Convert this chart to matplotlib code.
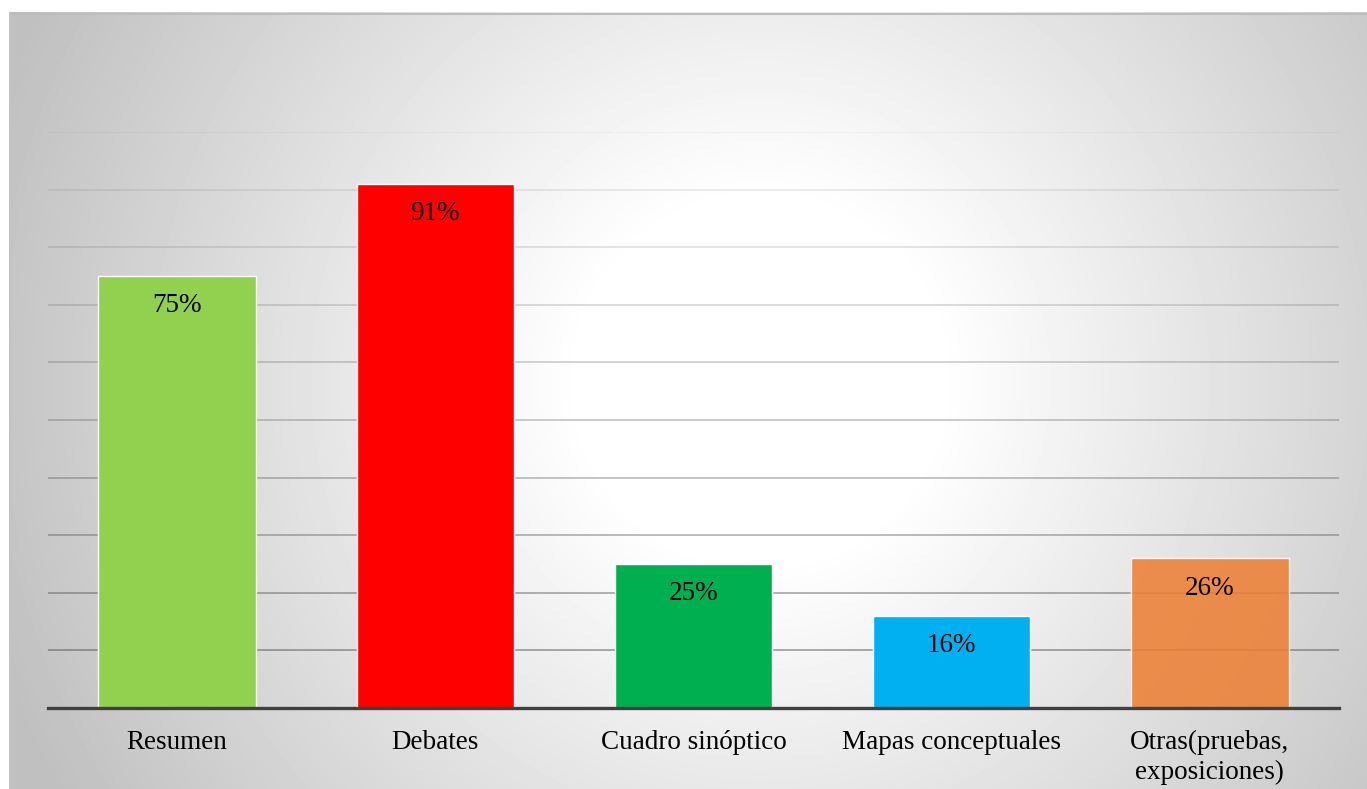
import numpy as np
import matplotlib.pyplot as plt

categorias = ["Resumen", "Debates", "Cuadro sinóptico", "Mapas conceptuales",
              "Otras(pruebas,\nexposiciones)"]
porcentajes = [75, 91, 25, 16, 26]
colores = ["#92D050", "#FF0000", "#00B050", "#00B0F0", "#ED7D31"]
alfas = [1.0, 1.0, 1.0, 1.0, 0.85]
rejilla = [10, 20, 30, 40, 50, 60, 70, 80, 90, 100]

W, H = 1367, 789
fig = plt.figure(figsize=(W / 100, H / 100), dpi=100)
fig.patch.set_facecolor("white")

# radial grey-to-white backdrop of the chart frame
fx0, fy0 = 9, 12
bg = fig.add_axes([fx0 / W, 0, (W - fx0) / W, (H - fy0) / H])
yy, xx = np.mgrid[fy0:H, fx0:W]
d = np.hypot(xx - 760, yy - 380)
shade = np.clip(255 - np.maximum(d - 180, 0) * 0.1, 192, 255) / 255
bg.imshow(shade, cmap="gray", vmin=0, vmax=1, aspect="auto",
          extent=[0, 1, 0, 1], interpolation="bilinear")
bg.set_xlim(0, 1)
bg.set_ylim(0, 1)
bg.axis("off")
bg.plot([0, 1], [0.998, 0.998], color="#bdbdbd", lw=1.5, transform=bg.transAxes)
bg.plot([0.001, 0.001], [0, 1], color="#c2c2c2", lw=1.5, transform=bg.transAxes)

ax = fig.add_axes([48 / W, (H - 708) / H, 1291 / W, 576 / H])
ax.set_facecolor("none")
ax.set_xlim(-0.5, len(categorias) - 0.5)
ax.set_ylim(0, 100)

# gridlines fade out toward the top
for v in rejilla:
    a = 0.6 - 0.52 * (v - 10) / 90
    ax.axhline(v, color="#505050", alpha=a, lw=1.1, zorder=0)

x = np.arange(len(categorias))
for i in range(len(categorias)):
    ax.bar(x[i], porcentajes[i], width=0.61, color=colores[i], alpha=alfas[i],
           edgecolor=(1, 1, 1, 0.45), linewidth=1.0, zorder=2)
    ax.text(x[i], porcentajes[i] - 5.2, f"{porcentajes[i]}%", ha="center", va="center",
            fontsize=19.5, family="Liberation Serif", color="black", zorder=3)

ax.axhline(0, color="#404040", lw=2.4, zorder=4, clip_on=False)

ax.set_xticks(x)
ax.set_xticklabels(categorias, fontsize=19.5, family="Liberation Serif",
                   linespacing=1.25)
ax.tick_params(axis="x", length=0, pad=16)
ax.set_yticks([])
for s in ax.spines.values():
    s.set_visible(False)

fig.savefig("out.png", dpi=100)
